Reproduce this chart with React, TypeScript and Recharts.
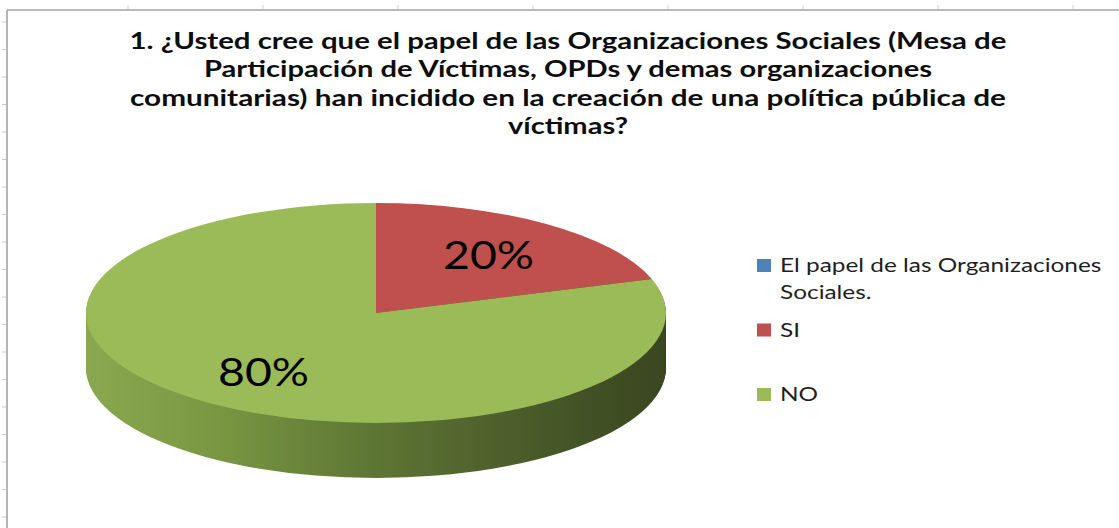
import React from 'react';
import { PieChart, Pie, Cell } from 'recharts';

// ---------- data ----------
const CATEGORIES = ['El papel de las Organizaciones Sociales.', 'SI', 'NO'];
const VALUES = [0, 20, 80];
const TOP_COLORS = ['#4f81bd', '#c0504d', '#9bbb59'];
const SIDE_COLORS = ['#3c6490', 'url(#sideRed)', 'url(#sideGreen)'];
const TITLE_LINES = [
  '1. ¿Usted cree que el papel de las Organizaciones Sociales (Mesa de',
  'Participación de Víctimas, OPDs y demas organizaciones',
  'comunitarias) han incidido en la creación de una política pública de',
  'víctimas?',
];

const pieData = CATEGORIES.map((name, i) => ({ name, value: VALUES[i] }));

// ---------- layout ----------
const W = 1119;
const H = 528;
const TITLE_CX = 568;
const TITLE_BASE = 49;
const TITLE_LH = 28.4;
const TITLE_WIDTHS = [877, 728, 876, 120];
const K = 110 / 290; // vertical squash of the pie (tilt)
const CHART_TOP = 150;
const CX = 376;
const CY_PAGE = 313;
const R = 290;
const DEPTH_PAGE = 55;
const CY = (CY_PAGE - CHART_TOP) / K;
const DEPTH = DEPTH_PAGE / K;
const STEP = 2.5;
const CHART_H = 900;
const CHART_W = 700;
const LABEL_F = 0.66;

const offsets: number[] = [];
for (let d = DEPTH; d > 0; d -= STEP) offsets.push(d);

const RAD = Math.PI / 180;

const renderLabel = (p: any) => {
  if (!p.value) return null;
  const r = p.outerRadius * LABEL_F;
  const x = p.cx + r * Math.cos(-p.midAngle * RAD);
  const y = p.cy + r * Math.sin(-p.midAngle * RAD);
  return (
    <text
      key={`lbl-${p.index}`}
      x={0}
      y={0}
      transform={`translate(${x} ${y}) scale(1 ${1 / K})`}
      textAnchor="middle"
      dominantBaseline="central"
      fontFamily="Lato, 'Open Sans', sans-serif"
      fontSize={38}
      textLength={91}
      lengthAdjust="spacingAndGlyphs"
      fill="#000"
    >
      {`${Math.round(p.percent * 100)}%`}
    </text>
  );
};

function wrap(text: string, max: number): string[] {
  const words = text.split(' ');
  const lines: string[] = [];
  let cur = '';
  for (const w of words) {
    const next = cur ? cur + ' ' + w : w;
    if (next.length > max && cur) {
      lines.push(cur);
      cur = w;
    } else cur = next;
  }
  if (cur) lines.push(cur);
  return lines;
}

const LEG_X = 757;
const LEG_TOP = 259;
const LEG_ROW = 64.5;
const LEG_TEXT_X = 780;
const LEG_LH = 27;
const LEG_SX = 1.22;

export default function App() {
  const leftTicks: number[] = [];
  for (let y = 22; y < H; y += 27.5) leftTicks.push(y);
  const topTicks: number[] = [];
  for (let x = 128; x < W; x += 135) topTicks.push(x);

  return (
    <div style={{ position: 'absolute', left: 0, top: 0, width: W, height: H, background: '#fff', overflow: 'hidden' }}>
      <svg width={W} height={H} style={{ position: 'absolute', left: 0, top: 0 }}>
        <line x1={7} y1={10} x2={W} y2={10} stroke="#a3a3a3" strokeWidth={1.6} />
        <line x1={7} y1={10} x2={7} y2={H} stroke="#a3a3a3" strokeWidth={1.6} />
        {leftTicks.map((y) => (
          <line key={`lt${y}`} x1={2} y1={y} x2={6} y2={y} stroke="#c8c8c8" strokeWidth={1} />
        ))}
        {topTicks.map((x) => (
          <line key={`tt${x}`} x1={x} y1={5} x2={x} y2={9} stroke="#d0d0d0" strokeWidth={1} />
        ))}
      </svg>

      <div
        style={{
          position: 'absolute',
          left: 0,
          top: CHART_TOP,
          width: CHART_W,
          height: CHART_H,
          transform: `scaleY(${K})`,
          transformOrigin: '0 0',
        }}
      >
        <PieChart width={CHART_W} height={CHART_H} margin={{ top: 0, right: 0, bottom: 0, left: 0 }}>
          <defs>
            <linearGradient id="sideGreen" gradientUnits="userSpaceOnUse" x1={CX - R} y1={0} x2={CX + R} y2={0}>
              <stop offset="0" stopColor="#8aa84f" />
              <stop offset="0.22" stopColor="#7a9843" />
              <stop offset="0.45" stopColor="#627b36" />
              <stop offset="0.65" stopColor="#52662e" />
              <stop offset="0.85" stopColor="#435326" />
              <stop offset="1" stopColor="#3a461f" />
            </linearGradient>
            <linearGradient id="sideRed" gradientUnits="userSpaceOnUse" x1={CX - R} y1={0} x2={CX + R} y2={0}>
              <stop offset="0" stopColor="#a54340" />
              <stop offset="1" stopColor="#5e2423" />
            </linearGradient>
          </defs>
          {offsets.map((d) => (
            <Pie
              key={`side-${d}`}
              data={pieData}
              dataKey="value"
              nameKey="name"
              cx={CX}
              cy={CY + d}
              outerRadius={R}
              startAngle={90}
              endAngle={-270}
              stroke="none"
              isAnimationActive={false}
              label={false}
              labelLine={false}
            >
              {pieData.map((e, i) => (
                <Cell key={`sc-${i}`} fill={SIDE_COLORS[i]} stroke="none" />
              ))}
            </Pie>
          ))}
          <Pie
            data={pieData}
            dataKey="value"
            nameKey="name"
            cx={CX}
            cy={CY}
            outerRadius={R}
            startAngle={90}
            endAngle={-270}
            stroke="none"
            isAnimationActive={false}
            label={renderLabel}
            labelLine={false}
          >
            {pieData.map((e, i) => (
              <Cell key={`tc-${i}`} fill={TOP_COLORS[i]} stroke="none" />
            ))}
          </Pie>
        </PieChart>
      </div>

      <svg width={W} height={H} style={{ position: 'absolute', left: 0, top: 0, pointerEvents: 'none' }}>
        {TITLE_LINES.map((t, i) => (
          <text
            key={`t${i}`}
            x={TITLE_CX}
            y={TITLE_BASE + i * TITLE_LH}
            textAnchor="middle"
            fontFamily="Lato, 'Open Sans', sans-serif"
            fontWeight={700}
            fontSize={22.5}
            textLength={TITLE_WIDTHS[i]}
            lengthAdjust="spacingAndGlyphs"
            fill="#0d0d0d"
          >
            {t}
          </text>
        ))}
        {CATEGORIES.map((c, i) => {
          const top = LEG_TOP + i * LEG_ROW;
          return (
            <g key={`lg${i}`}>
              <rect x={LEG_X} y={top} width={14} height={13} fill={TOP_COLORS[i]} />
              {wrap(c, 30).map((ln, j) => (
                <g key={`lgt${j}`} transform={`translate(${LEG_TEXT_X} ${top + 13 + j * LEG_LH}) scale(${LEG_SX} 1)`}>
                  <text x={0} y={0} fontFamily="Lato, 'Open Sans', sans-serif" fontSize={20} fill="#1f1f1f">
                    {ln}
                  </text>
                </g>
              ))}
            </g>
          );
        })}
      </svg>
    </div>
  );
}
